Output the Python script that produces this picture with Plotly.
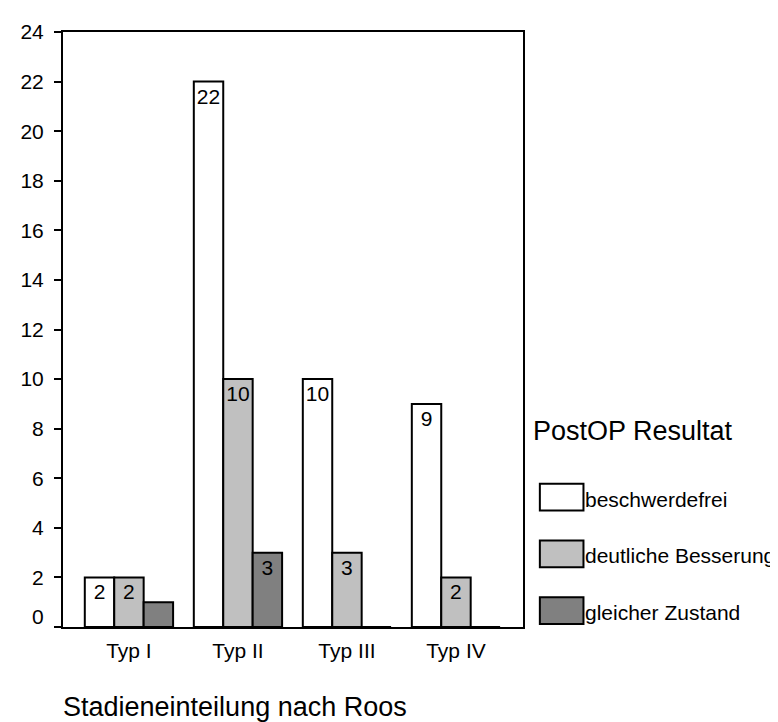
import plotly.graph_objects as go

# Daten
kategorien = ['Typ I', 'Typ II', 'Typ III', 'Typ IV']
serien = ['beschwerdefrei', 'deutliche Besserung', 'gleicher Zustand']
beschwerdefrei = [2, 22, 10, 9]
deutliche_besserung = [2, 10, 3, 2]
gleicher_zustand = [1, 3, 0, 0]
y_ticks = list(range(0, 25, 2))

werte = [beschwerdefrei, deutliche_besserung, gleicher_zustand]
farben = ['#ffffff', '#c0c0c0', '#808080']
FONT = 'Arial, Liberation Sans, sans-serif'

# Plotbereich in Pixeln (fuer manuelle Legende)
L, R, T, B = 51, 263, 21, 103
W, H = 778, 722
PW, PH = W - L - R, H - T - B


def px_x(px):
    return (px - L) / PW


def px_y(py):
    return (H - B - py) / PH


fig = go.Figure()

for name, vals, col in zip(serien, werte, farben):
    # Werte < 2 werden im Original nicht beschriftet
    labels = [str(v) if v >= 2 else '' for v in vals]
    fig.add_trace(go.Bar(
        x=kategorien, y=vals, name=name,
        marker=dict(color=col, line=dict(color='black', width=2)),
        text=labels, textposition='inside', insidetextanchor='end',
        constraintext='none', textangle=0,
        textfont=dict(family=FONT, size=21, color='black'),
        hoverinfo='x+y+name',
    ))

fig.update_layout(
    width=W, height=H,
    margin=dict(l=L, r=R, t=T, b=B),
    paper_bgcolor='white', plot_bgcolor='white',
    barmode='group', bargap=0.19, bargroupgap=0,
    showlegend=False,
    font=dict(family=FONT, size=21, color='black'),
)

fig.update_xaxes(
    type='category', range=[-0.605, 3.615],
    showline=True, linecolor='black', linewidth=2, mirror=True,
    ticks='', showgrid=False, zeroline=False,
    tickfont=dict(size=21), ticklabelstandoff=4,
)
fig.update_yaxes(
    range=[0, 24], tickvals=y_ticks,
    ticktext=['' if t == 0 else str(t) for t in y_ticks],
    showline=True, linecolor='black', linewidth=2, mirror=True,
    ticks='outside', ticklen=7, tickwidth=2, tickcolor='black',
    showgrid=False, zeroline=False,
    tickfont=dict(size=21), ticklabelstandoff=6,
)

# "0" sitzt im Original etwas oberhalb der Achse
fig.add_annotation(
    x=0, xref='paper', xanchor='right', xshift=-17,
    y=0, yref='y', yshift=11, showarrow=False,
    text='0', font=dict(size=21),
)

# Achsentitel
fig.add_annotation(
    x=px_x(49), xref='paper', xanchor='left',
    y=px_y(699), yref='paper', yanchor='middle',
    text='Stadieneinteilung nach Roos', showarrow=False,
    font=dict(size=27),
)

# Legende manuell (grosse Kaestchen wie im Original)
fig.add_annotation(
    x=px_x(523), xref='paper', xanchor='left',
    y=px_y(422), yref='paper', yanchor='middle',
    text='PostOP Resultat', showarrow=False,
    font=dict(size=27),
)
for i, (name, col) in enumerate(zip(serien, farben)):
    cy = 488.5 + i * 57
    fig.add_shape(
        type='rect', xref='paper', yref='paper',
        x0=px_x(532), x1=px_x(576), y0=px_y(cy + 13.5), y1=px_y(cy - 13.5),
        fillcolor=col, line=dict(color='black', width=2),
    )
    fig.add_annotation(
        x=px_x(576), xref='paper', xanchor='left',
        y=px_y(cy + 2), yref='paper', yanchor='middle',
        text=name, showarrow=False, font=dict(size=21),
    )

fig.write_html('out.html')
